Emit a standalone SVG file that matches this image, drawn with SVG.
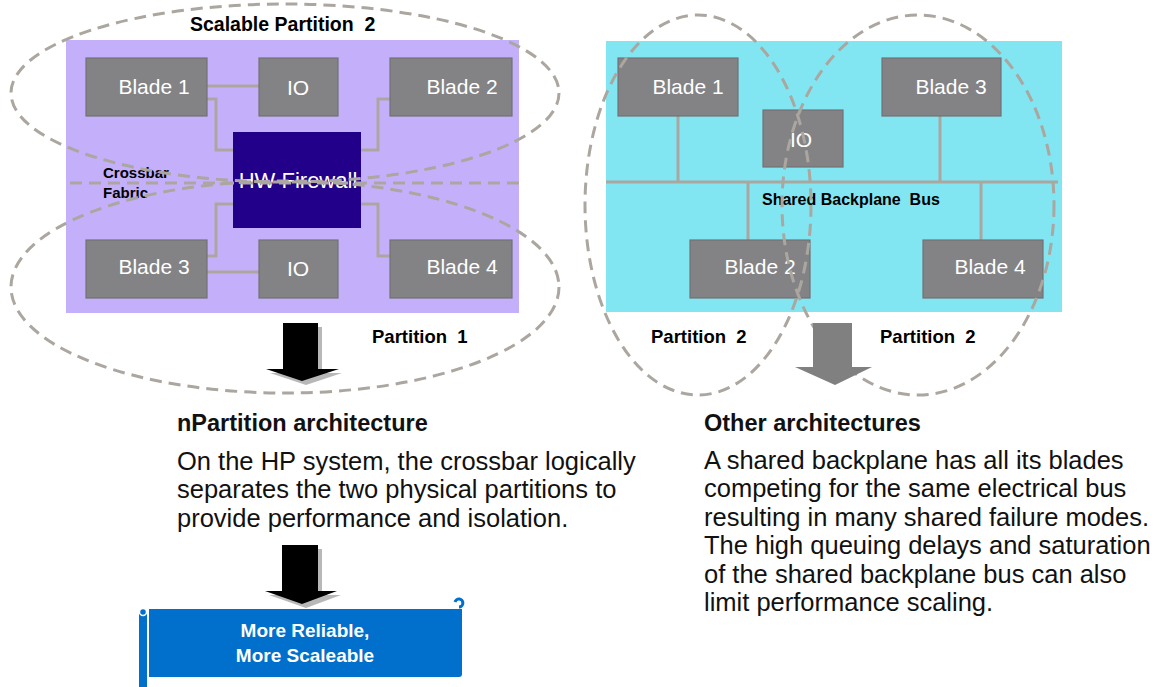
<svg xmlns="http://www.w3.org/2000/svg" width="1173" height="687" viewBox="0 0 1173 687">
<style>
.blade{fill:#838386;stroke:#727274;stroke-width:1.2}
.bt{font-family:"Liberation Sans",Arial,sans-serif;font-size:21px;fill:#fff;text-anchor:middle}
.lbl{font-family:"Liberation Sans",Arial,sans-serif;font-weight:bold;fill:#000}
.conn{fill:none;stroke:#aba69f;stroke-width:3}
.dash{fill:none;stroke:#aba69f;stroke-width:3;stroke-dasharray:12 7}
.para{font-family:"Liberation Sans",Arial,sans-serif;font-size:25.5px;fill:#111}
.head{font-family:"Liberation Sans",Arial,sans-serif;font-size:23.5px;font-weight:bold;fill:#111}
</style>
<rect width="1173" height="687" fill="#fff"/>
<!-- backgrounds -->
<rect id="crossbar-bg" x="66" y="40" width="453" height="273" fill="#c4b0fa"/>
<rect id="backplane-bg" x="606" y="41" width="456" height="271" fill="#82e6f2"/>

<g id="connectors">
<path class="conn" d="M207 86H259"/>
<path class="conn" d="M207 99H216V150H233"/>
<path class="conn" d="M390 99H378V150H361"/>
<path class="conn" d="M207 256H216V204H233"/>
<path class="conn" d="M207 272H259"/>
<path class="conn" d="M390 256H378V204H361"/>
<path class="conn" d="M606 182H1058"/>
<path class="conn" d="M678 116V182"/>
<path class="conn" d="M940 116V182"/>
<path class="conn" d="M748 182V240"/>
<path class="conn" d="M981 182V240"/>
</g>

<g id="l-blade1"><rect class="blade" x="86" y="58" width="121" height="58"/><text class="bt" x="154" y="94">Blade 1</text></g>
<g id="l-io1"><rect class="blade" x="259" y="58" width="79" height="58"/><text class="bt" x="298" y="95">IO</text></g>
<g id="l-blade2"><rect class="blade" x="390" y="58" width="122" height="58"/><text class="bt" x="462" y="94">Blade 2</text></g>
<g id="l-firewall"><rect x="233" y="132" width="128" height="96" fill="#23008a"/><text class="bt" x="298" y="188" style="font-size:22px">HW Firewall</text></g>
<g id="l-blade3"><rect class="blade" x="86" y="240" width="121" height="58"/><text class="bt" x="154" y="274">Blade 3</text></g>
<g id="l-io2"><rect class="blade" x="259" y="240" width="79" height="58"/><text class="bt" x="298" y="276">IO</text></g>
<g id="l-blade4"><rect class="blade" x="390" y="240" width="122" height="58"/><text class="bt" x="462" y="274">Blade 4</text></g>

<g id="r-blade1"><rect class="blade" x="618" y="58" width="120" height="58"/><text class="bt" x="688" y="94">Blade 1</text></g>
<g id="r-io"><rect class="blade" x="763" y="110" width="80" height="57"/><text class="bt" x="801" y="147">IO</text></g>
<g id="r-blade3"><rect class="blade" x="882" y="58" width="119" height="58"/><text class="bt" x="951" y="94">Blade 3</text></g>
<g id="r-blade2"><rect class="blade" x="690" y="240" width="120" height="58"/><text class="bt" x="760" y="274">Blade 2</text></g>
<g id="r-blade4"><rect class="blade" x="923" y="240" width="120" height="58"/><text class="bt" x="990" y="274">Blade 4</text></g>

<g id="labels">
<text class="lbl" x="190" y="31" style="font-size:19.5px">Scalable Partition&#160; 2</text>
<text class="lbl" x="103" y="178" style="font-size:15px">Crossbar</text>
<text class="lbl" x="103" y="198" style="font-size:15px">Fabric</text>
<text class="lbl" x="762" y="205" style="font-size:16px">Shared Backplane&#160; Bus</text>
<text class="lbl" x="372" y="343" style="font-size:18.5px">Partition&#160; 1</text>
<text class="lbl" x="651" y="343" style="font-size:18.5px">Partition&#160; 2</text>
<text class="lbl" x="880" y="343" style="font-size:18.5px">Partition&#160; 2</text>
</g>

<g id="partitions">
<ellipse class="dash" cx="285" cy="93" rx="274" ry="89"/>
<ellipse class="dash" cx="285" cy="287" rx="274" ry="106"/>
<path class="dash" d="M70 183H520"/>
<ellipse class="dash" cx="698" cy="205" rx="113" ry="190"/>
<ellipse class="dash" cx="918" cy="205" rx="136" ry="190"/>
</g>

<g id="arrow1">
<path d="M287 327H322V373H342L306 385L270 373H287Z" fill="#9a9a9a" opacity="0.7"/>
<path d="M283 323H318V369H339L302 381L266 369H283Z" fill="#000"/>
</g>
<g id="arrow2">
<path d="M813 323H852V367H872L835 385L795 367H813Z" fill="#808080"/>
</g>
<g id="arrow3">
<path d="M286 549H322V595H341L306 608L269 595H286Z" fill="#9a9a9a" opacity="0.7"/>
<path d="M282 545H318V591H337L302 604L265 591H282Z" fill="#000"/>
</g>

<g id="text-left">
<text class="head" x="177" y="431">nPartition architecture</text>
<text class="para" x="177" y="470">On the HP system, the crossbar logically</text>
<text class="para" x="177" y="498">separates the two physical partitions to</text>
<text class="para" x="177" y="527">provide performance and isolation.</text>
</g>
<g id="text-right">
<text class="head" x="704" y="431">Other architectures</text>
<text class="para" x="704" y="469">A shared backplane has all its blades</text>
<text class="para" x="704" y="497">competing for the same electrical bus</text>
<text class="para" x="704" y="526">resulting in many shared failure modes.</text>
<text class="para" x="704" y="554">The high queuing delays and saturation</text>
<text class="para" x="704" y="583">of the shared backplane bus can also</text>
<text class="para" x="704" y="611">limit performance scaling.</text>
</g>

<g id="banner">
<path d="M149 609H462V674Q462 677 459 677H149Z" fill="#0070cc"/>
<rect x="139" y="612" width="8" height="75" fill="#0070cc"/>
<circle cx="143" cy="612" r="3.5" fill="#0070cc" stroke="#fff" stroke-width="1.5"/>
<path d="M455 602A4 4 0 1 1 459 607" fill="none" stroke="#0070cc" stroke-width="3"/>
<text x="305" y="637" text-anchor="middle" style="font-family:'Liberation Sans',Arial,sans-serif;font-size:19px;font-weight:bold;fill:#fff">More Reliable,</text>
<text x="305" y="662" text-anchor="middle" style="font-family:'Liberation Sans',Arial,sans-serif;font-size:19px;font-weight:bold;fill:#fff">More Scaleable</text>
</g>
</svg>
